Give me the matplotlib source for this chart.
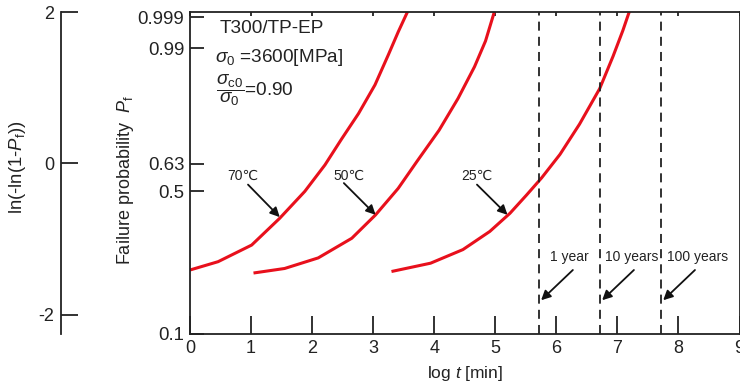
import numpy as np
import matplotlib
matplotlib.use("Agg")
import matplotlib.pyplot as plt

plt.rcParams['font.family'] = ['Liberation Sans', 'DejaVu Sans']
plt.rcParams['mathtext.fontset'] = 'custom'
plt.rcParams['mathtext.rm'] = 'Liberation Sans'
plt.rcParams['mathtext.it'] = 'Liberation Sans:italic'
plt.rcParams['mathtext.sf'] = 'Liberation Sans'

# ---- data (x: log t [min], y: ln(-ln(1-Pf))) ----
logt_70 = [0.0, 0.46, 1.01, 1.47, 1.88, 2.21, 2.48, 2.76, 3.03, 3.25, 3.41, 3.57]
w_70 = [-1.41, -1.30, -1.08, -0.725, -0.37, -0.02, 0.32, 0.66, 1.04, 1.44, 1.74, 2.02]
logt_50 = [1.04, 1.55, 2.10, 2.65, 3.04, 3.41, 3.72, 4.08, 4.39, 4.66, 4.84, 4.99]
w_50 = [-1.45, -1.39, -1.25, -0.99, -0.68, -0.33, 0.03, 0.44, 0.86, 1.28, 1.62, 2.02]
logt_25 = [3.30, 3.94, 4.47, 4.91, 5.24, 5.51, 5.76, 6.06, 6.38, 6.71, 6.93, 7.09, 7.20]
w_25 = [-1.43, -1.32, -1.14, -0.90, -0.66, -0.42, -0.19, 0.12, 0.52, 0.99, 1.42, 1.76, 2.02]

pf_ticks = [0.1, 0.5, 0.63, 0.99, 0.999]
pf_labels = ['0.1', '0.5', '0.63', '0.99', '0.999']
w_ticks = [-2, 0, 2]
x_ticks = [0, 1, 2, 3, 4, 5, 6, 7, 8, 9]
year_labels = ['1 year', '10 years', '100 years']
year_logt = [np.log10(525600), np.log10(5256000), np.log10(52560000)]
temp_labels = ['70℃', '50℃', '25℃']

def weib(p):
    return np.log(-np.log(1 - np.asarray(p)))

W, H = 740, 389
fig = plt.figure(figsize=(W / 100, H / 100), dpi=100)
bot = 1 - 333.5 / H
top = 1 - 12.3 / H
ax = fig.add_axes([190 / W, bot, 739.5 / W - 190 / W, top - bot])
ylo, yhi = weib(0.1), 2.0
ax.set_xlim(0, 9)
ax.set_ylim(ylo, yhi)

ink = '#222222'
red = '#e8101c'
for xs, ys in [(logt_70, w_70), (logt_50, w_50), (logt_25, w_25)]:
    ax.plot(xs, ys, color=red, lw=2.2, solid_capstyle='butt', solid_joinstyle='round')

for xv in year_logt:
    ax.axvline(xv, color=ink, lw=1.3, dashes=(5, 3.4))

ax.set_xticks(x_ticks)
ax.set_xticklabels([str(v) for v in x_ticks], fontsize=13)
ax.set_yticks(weib(pf_ticks))
ax.set_yticklabels(pf_labels, fontsize=13.4)
ax.tick_params(axis='both', direction='in', length=10, width=1.3, colors=ink,
               labelcolor=ink)
ax.tick_params(axis='x', pad=5, length=13)
ax.tick_params(axis='y', pad=4)
ax.xaxis.set_tick_params(which='major', top=True)
for t in ax.xaxis.get_major_ticks():
    t.tick2line.set_markersize(3)
for s in ax.spines.values():
    s.set_linewidth(1.3)
    s.set_color(ink)

ax.set_xlabel(r'log $t$ [min]', fontsize=12.5, labelpad=5, color=ink)

fig.text(125 / W, 1 - 180 / H, r'Failure probability  $P_\mathrm{f}$', rotation=90,
         ha='center', va='center', fontsize=13, color=ink)

# text block
ax.text(0.48, 1.79, 'T300/TP-EP', fontsize=13.7, ha='left', va='center', color=ink)
ax.text(0.41, 1.40, r'$\sigma_0$ =3600[MPa]', fontsize=13.7, ha='left', va='center', color=ink)
ax.text(0.43, 0.97, r'$\dfrac{\sigma_{\mathrm{c0}}}{\sigma_0}$=0.90', fontsize=13.7, ha='left',
        va='center', color=ink)

# temperature arrows
temp_txt = [(0.87, -0.17), (2.60, -0.17), (4.70, -0.17)]
temp_tail = [(0.95, -0.28), (2.52, -0.26), (4.70, -0.28)]
temp_tip = [(1.47, -0.71), (3.04, -0.68), (5.20, -0.68)]
for lab, tp, tl, tt in zip(temp_labels, temp_tip, temp_tail, temp_txt):
    ax.text(tt[0], tt[1], lab, fontsize=10, ha='center', va='center', color=ink)
    ax.annotate('', xy=tp, xytext=tl,
                arrowprops=dict(arrowstyle='-|>', color='#111111', lw=1.3,
                                mutation_scale=14, shrinkA=0, shrinkB=0))

# year arrows
year_dx = [0.18, 0.07, 0.10]
for lab, xv, dx in zip(year_labels, year_logt, year_dx):
    ax.text(xv + dx, -1.24, lab, fontsize=10, ha='left', va='center', color=ink)
    ax.annotate('', xy=(xv + 0.03, -1.81), xytext=(xv + 0.55, -1.41),
                arrowprops=dict(arrowstyle='-|>', color='#111111', lw=1.3,
                                mutation_scale=14, shrinkA=0, shrinkB=0))

# left Weibull axis
ax2 = fig.add_axes([61 / W, bot, 0.001, top - bot])
ax2.set_ylim(ylo, yhi)
ax2.set_xticks([])
ax2.set_yticks(w_ticks)
ax2.set_yticklabels([str(v) for v in w_ticks], fontsize=13)
for k in ['top', 'right', 'bottom']:
    ax2.spines[k].set_visible(False)
ax2.spines['left'].set_linewidth(1.3)
ax2.spines['left'].set_color(ink)
ax2.tick_params(axis='y', direction='in', length=12, width=1.3, pad=5,
                colors=ink, labelcolor=ink)
ax2.patch.set_visible(False)
fig.text(18 / W, 1 - 167 / H, r'ln(-ln(1-$P_\mathrm{f}$))', rotation=90,
         ha='center', va='center', fontsize=13.3, color=ink)

fig.savefig('out.png', dpi=100)
